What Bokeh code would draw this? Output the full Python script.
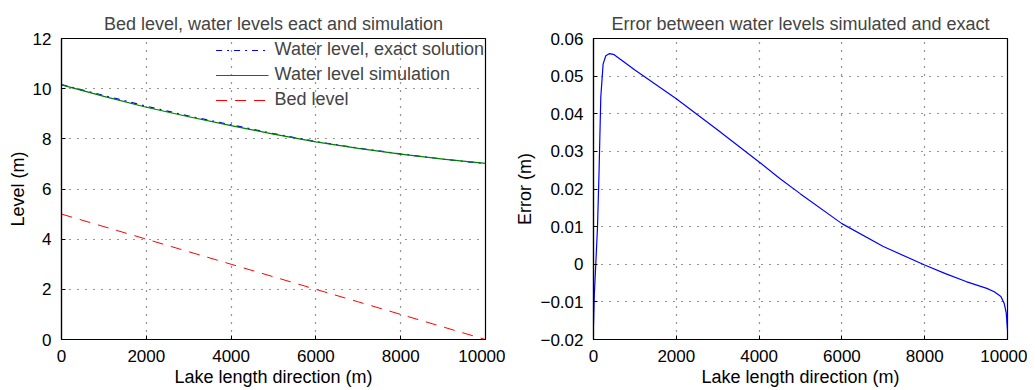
from bokeh.plotting import figure
from bokeh.layouts import row
from bokeh.models import Range1d, SingleIntervalTicker, CustomJSTickFormatter, Legend, LegendItem
from bokeh.embed import file_html
from bokeh.resources import INLINE

# ---- data ----
dist = [0, 1000, 2000, 3000, 4000, 5000, 6000, 7000, 8000, 9000, 10000]
water_exact = [10.16, 9.73, 9.30, 8.91, 8.56, 8.21, 7.89, 7.63, 7.40, 7.19, 7.01]
water_sim = [10.15, 9.69, 9.26, 8.88, 8.53, 8.19, 7.88, 7.62, 7.39, 7.19, 7.02]
bed_level = [5.0, 4.5, 4.0, 3.5, 3.0, 2.5, 2.0, 1.5, 1.0, 0.5, 0.0]

err_x = [0, 20, 56, 97, 135, 176, 232, 297, 390, 500, 1000, 2000, 3000, 4000,
         4500, 5000, 6000, 7000, 8000, 8500, 9000, 9500, 9680, 9840, 9920, 9970, 10000]
err_val = [-0.016, -0.008, 0.0002, 0.010, 0.025, 0.0444, 0.0532, 0.0554, 0.0560, 0.0557,
           0.0516, 0.0440, 0.0357, 0.0272, 0.0228, 0.0187, 0.0108, 0.0047, -0.0002,
           -0.0025, -0.0046, -0.0064, -0.0073, -0.0086, -0.0104, -0.0130, -0.0175]

x_ticks_interval = 2000
FONT = "Liberation Sans"
TICK_FS = "17px"
LABEL_FS = "18px"
TITLE_FS = "18px"


def style(p, xint, yint):
    p.title.text_font = FONT
    p.title.text_font_size = TITLE_FS
    p.title.text_font_style = "normal"
    p.title.align = "center"
    p.title.standoff = 9
    p.outline_line_color = "black"
    p.outline_line_width = 1.2
    p.background_fill_color = "white"
    p.border_fill_color = "white"
    for ax in p.xaxis + p.yaxis:
        ax.axis_label_text_font = FONT
        ax.axis_label_text_font_size = LABEL_FS
        ax.axis_label_text_font_style = "normal"
        ax.major_label_text_font = FONT
        ax.major_label_text_font_size = TICK_FS
        ax.major_tick_in = 4
        ax.major_tick_out = 0
        ax.minor_tick_line_color = None
        ax.axis_line_color = "black"
        ax.axis_line_width = 1.2
        ax.major_label_text_color = "black"
        ax.axis_label_text_color = "black"
    p.xaxis.ticker = SingleIntervalTicker(interval=xint)
    p.yaxis.ticker = SingleIntervalTicker(interval=yint)
    p.xgrid.ticker = SingleIntervalTicker(interval=xint)
    p.ygrid.ticker = SingleIntervalTicker(interval=yint)
    for g in (p.xgrid, p.ygrid):
        g.grid_line_color = "black"
        g.grid_line_dash = "1 7"
        g.grid_line_width = 1.2
        g.grid_line_alpha = 0.85
    p.xaxis.axis_label_standoff = 2
    p.yaxis.axis_label_standoff = 2
    p.xaxis.major_label_standoff = 6
    p.yaxis.major_label_standoff = 6


# ---- left figure ----
p1 = figure(frame_width=424, frame_height=301, output_backend="svg", toolbar_location=None,
            title="Bed level, water levels eact and simulation",
            x_range=Range1d(0, 10000), y_range=Range1d(0, 12),
            min_border_left=61, min_border_right=20, min_border_top=38, min_border_bottom=50)
p1.xaxis.axis_label = "Lake length direction (m)"
p1.yaxis.axis_label = "Level (m)"

r_exact = p1.line(dist, water_exact, line_color="blue", line_width=1.2, line_dash="6 5 2 5")
r_sim = p1.line(dist, water_sim, line_color="green", line_width=1.2)
r_bed = p1.line(dist, bed_level, line_color="red", line_width=1, line_dash="11 8")

leg = Legend(items=[LegendItem(label="Water level, exact solution", renderers=[r_exact]),
                    LegendItem(label="Water level simulation", renderers=[r_sim]),
                    LegendItem(label="Bed level", renderers=[r_bed])],
             location="top_right")
leg.border_line_color = None
leg.background_fill_alpha = 0
leg.label_text_font = FONT
leg.label_text_font_size = LABEL_FS
leg.glyph_width = 53
leg.glyph_height = 20
leg.spacing = 4
leg.padding = 1
leg.margin = 1
leg.label_standoff = 6
p1.add_layout(leg)
style(p1, x_ticks_interval, 2)

# ---- right figure ----
p2 = figure(frame_width=414, frame_height=301, output_backend="svg", toolbar_location=None,
            title="Error between water levels simulated and exact",
            x_range=Range1d(0, 10000), y_range=Range1d(-0.02, 0.06),
            min_border_left=88, min_border_right=20, min_border_top=38, min_border_bottom=50)
p2.xaxis.axis_label = "Lake length direction (m)"
p2.yaxis.axis_label = "Error (m)"
p2.line(err_x, err_val, line_color="blue", line_width=1.2)
style(p2, x_ticks_interval, 0.01)
p2.yaxis.formatter = CustomJSTickFormatter(code="""
    if (Math.abs(tick) < 1e-9) { return "0"; }
    const s = Math.abs(tick).toFixed(2);
    return (tick < 0 ? "\u2212" : "") + s;
""")

layout = row(p1, p2)
open("out.html", "w").write(file_html(layout, INLINE))
